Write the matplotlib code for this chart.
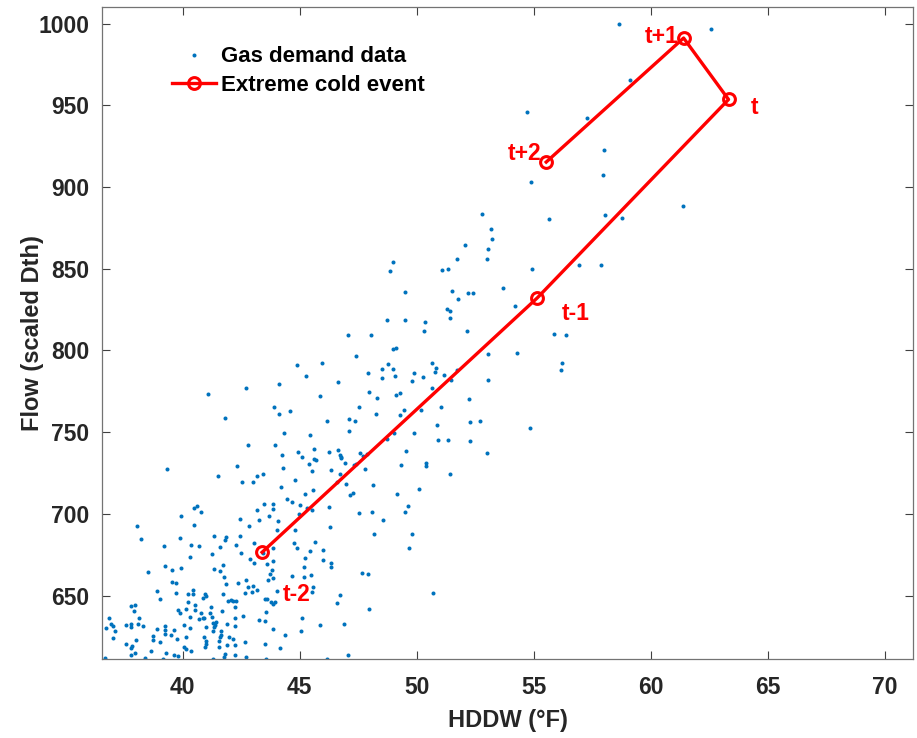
import matplotlib.pyplot as plt

plt.rcParams['font.family'] = ['Liberation Sans', 'DejaVu Sans']
plt.rcParams['font.weight'] = 'bold'

# Gas demand data: HDDW (deg F) vs flow (scaled Dth)
hddw = [
    41.07, 42.72, 44.11, 44.89, 45.26, 41.82, 43.88, 44.11, 44.58, 44.31,
    45.42, 42.81, 43.94, 44.26, 44.93, 45.10, 45.40, 39.33, 42.30, 44.29,
    41.52, 43.16, 43.45, 42.52, 43.00, 44.78, 44.20, 45.22, 44.45, 44.68,
    45.01, 45.33, 40.47, 40.63, 40.77, 43.16, 43.48, 43.86, 43.86, 39.94,
    43.68, 44.98, 42.46, 43.26, 44.09, 38.03, 40.47, 42.84, 44.04, 44.78,
    38.21, 39.87, 41.35, 41.86, 41.79, 42.46, 39.19, 40.36, 40.68, 41.58,
    42.29, 43.03, 44.76, 44.88, 43.84, 40.29, 41.24, 42.49, 42.89, 43.03,
    43.60, 43.86, 43.41, 45.22, 39.26, 39.56, 39.91, 38.51, 41.32, 41.72,
    41.61, 43.81, 43.74, 45.18, 41.75, 42.70, 43.64, 43.86, 44.69, 39.56,
    39.72, 41.86, 42.36, 43.01, 42.80, 42.64, 43.17, 42.96, 44.01, 45.18,
    38.92, 39.73, 40.24, 40.43, 40.43, 40.94, 41.01, 40.85, 41.74, 39.01,
    40.21, 40.53, 41.19, 41.95, 42.06, 42.16, 42.26, 42.23, 43.50, 43.60,
    43.77, 43.84, 43.94, 37.77, 37.97, 37.93, 39.79, 39.90, 40.12, 40.54,
    40.77, 41.15, 41.24, 41.69, 42.59, 43.56, 36.86, 38.15, 40.33, 40.90,
    42.23, 43.27, 43.53, 45.10, 36.92, 37.04, 37.59, 37.81, 38.11, 38.31,
    40.07, 40.70, 40.85, 41.30, 41.38, 41.41, 41.89, 42.22, 36.73, 37.81,
    37.12, 38.91, 39.23, 39.25, 39.62, 40.30, 40.98, 41.31, 41.34, 41.64,
    43.87, 45.07, 38.74, 39.23, 39.48, 40.14, 40.93, 41.59, 41.65, 41.98,
    42.15, 37.01, 38.01, 38.74, 39.05, 39.76, 41.01, 41.57, 42.64, 37.59,
    37.84, 37.81, 40.06, 41.01, 40.97, 41.91, 41.55, 42.25, 43.50, 44.39,
    44.17, 37.94, 37.80, 38.65, 40.13, 40.34, 39.29, 39.62, 39.79, 41.79,
    42.25, 41.78, 38.40, 39.15, 36.66, 42.70, 41.31, 43.57,
    52.79, 53.19, 53.22, 52.06, 53.04, 52.99, 51.73, 49.00, 48.84, 51.09,
    51.33, 49.50, 51.50, 52.18, 52.41, 53.69, 51.76, 51.28, 51.40, 51.43,
    48.72, 49.48, 50.36, 50.32, 52.15, 47.05, 48.06, 49.00, 49.13, 47.39,
    53.05, 45.97, 48.78, 48.52, 49.00, 50.64, 50.83, 50.78, 47.91, 48.53,
    49.08, 49.87, 50.26, 51.17, 51.71, 49.78, 51.47, 53.05, 46.65, 45.88,
    47.95, 48.29, 49.13, 49.27, 50.65, 52.23,
    47.55, 46.17, 47.12, 47.35, 48.26, 49.30, 49.44, 50.18, 51.04, 47.12,
    49.89, 50.87, 52.26, 52.70, 50.92, 51.34, 52.28, 52.99, 45.60, 45.63,
    45.70, 46.27, 46.63, 46.70, 46.78, 46.77, 47.56, 47.72, 47.89, 48.74,
    49.03, 46.95, 47.33, 47.42, 49.53, 49.31, 50.39, 50.39, 51.43, 45.53,
    46.34, 46.71, 47.78, 46.58, 46.99, 48.14, 45.57, 47.15, 47.27, 49.17,
    50.09, 45.54, 46.26, 49.64, 47.52, 48.10, 49.51, 48.57, 46.30,
    45.66, 45.43, 46.00, 46.01, 46.35, 46.35, 45.50, 47.68, 47.93, 48.19,
    49.78, 49.65, 45.57, 45.53, 46.74, 46.58, 47.95, 50.68, 45.86, 46.91,
    47.08, 46.17,
    54.19, 54.29, 55.86, 56.39, 56.20, 56.15, 54.84,
    58.65, 62.59, 59.12, 54.70, 57.27, 58.00, 57.95, 54.86, 61.39, 55.67,
    58.03, 58.76, 54.91, 56.93, 57.88,
]
flow = [
    773.2, 777.3, 779.3, 790.9, 784.2, 758.7, 765.2, 761.3, 762.8, 749.3,
    748.1, 742.4, 742.2, 736.2, 737.6, 735.0, 730.7, 727.2, 729.3, 728.1,
    723.2, 723.4, 724.6, 719.5, 719.5, 720.5, 716.5, 712.4, 709.3, 707.3,
    705.4, 703.8, 703.4, 705.0, 701.3, 702.4, 706.0, 706.0, 702.7, 698.5,
    698.7, 699.9, 697.0, 696.4, 695.4, 692.8, 693.0, 692.8, 690.3, 690.1,
    684.4, 685.4, 686.6, 685.6, 684.0, 686.6, 680.5, 681.1, 680.1, 679.7,
    681.1, 681.9, 682.2, 679.1, 679.1, 673.6, 675.4, 676.2, 672.4, 669.9,
    669.3, 671.3, 676.0, 673.0, 668.3, 665.8, 666.6, 664.2, 666.4, 668.9,
    664.8, 665.4, 663.5, 667.2, 661.1, 659.3, 659.5, 660.5, 662.1, 658.5,
    657.7, 657.4, 657.7, 655.6, 655.0, 651.7, 653.4, 652.5, 653.0, 661.1,
    652.8, 651.7, 650.9, 653.6, 650.7, 650.9, 649.5, 648.8, 650.9, 648.1,
    646.0, 644.4, 643.0, 646.6, 647.3, 646.8, 646.6, 643.0, 648.1, 648.2,
    645.8, 644.8, 646.2, 643.6, 644.0, 640.7, 641.1, 639.3, 641.9, 641.3,
    639.5, 639.5, 637.0, 640.3, 637.6, 639.7, 636.0, 636.4, 636.6, 636.2,
    636.0, 635.0, 634.2, 636.2, 632.7, 631.7, 632.1, 632.9, 632.9, 631.7,
    632.3, 635.6, 636.0, 633.4, 632.1, 633.8, 632.6, 631.5, 630.3, 630.7,
    628.5, 629.7, 631.1, 629.1, 628.9, 630.3, 630.5, 628.5, 630.5, 628.3,
    629.5, 628.5, 625.4, 626.4, 626.0, 624.8, 624.4, 624.8, 625.8, 624.4,
    623.4, 624.0, 622.8, 623.1, 621.7, 623.4, 622.3, 622.3, 621.5, 620.3,
    619.3, 617.9, 618.7, 620.3, 618.7, 619.9, 618.8, 619.9, 620.3, 626.0,
    617.9, 615.0, 613.9, 615.8, 617.2, 616.2, 614.6, 613.6, 613.1, 614.2,
    613.9, 612.5, 611.9, 611.5, 612.1, 612.5, 611.0, 611.0,
    883.6, 874.5, 868.1, 864.8, 862.4, 856.1, 855.8, 854.0, 848.5, 849.1,
    850.1, 835.9, 836.2, 835.0, 835.0, 838.3, 831.3, 825.2, 824.2, 820.0,
    818.5, 818.5, 817.7, 812.0, 811.7, 809.7, 809.3, 801.2, 801.8, 796.9,
    797.9, 792.6, 791.8, 788.5, 788.9, 792.1, 789.5, 787.1, 786.3, 783.4,
    784.2, 786.3, 783.6, 785.0, 788.1, 781.4, 782.2, 782.2, 780.8, 772.2,
    774.8, 771.0, 772.8, 774.0, 777.3, 770.3,
    765.2, 756.9, 758.3, 756.6, 761.2, 760.7, 763.4, 763.4, 765.5, 750.8,
    749.3, 754.4, 756.3, 756.6, 745.4, 745.4, 744.8, 737.3, 739.7, 733.8,
    733.0, 738.1, 738.9, 736.2, 735.0, 734.0, 737.3, 735.6, 736.7, 745.9,
    749.5, 731.2, 729.9, 730.5, 738.3, 729.9, 731.3, 729.1, 724.4, 726.0,
    727.1, 724.6, 727.5, 719.7, 718.0, 717.4, 714.8, 711.7, 712.5, 712.4,
    715.2, 702.6, 704.2, 704.8, 700.7, 700.9, 700.9, 696.4, 692.0,
    683.0, 677.4, 677.9, 671.9, 669.9, 667.8, 662.3, 664.0, 663.5, 687.7,
    687.7, 679.1, 655.4, 652.2, 650.3, 645.6, 641.7, 651.3, 632.1, 632.9,
    613.8, 611.0,
    827.3, 798.5, 810.3, 809.7, 792.1, 787.9, 752.6,
    999.6, 996.9, 965.7, 945.7, 942.4, 922.4, 907.5, 903.0, 888.7, 880.6,
    883.2, 881.2, 850.0, 852.4, 852.2,
]

# Extreme cold event, in time order t-2 .. t+2
event_labels = ['t-2', 't-1', 't', 't+1', 't+2']
event_hddw = [43.39, 55.15, 63.32, 61.40, 55.53]
event_flow = [676.5, 832.2, 953.6, 991.2, 915.3]
label_hddw = [44.29, 56.18, 64.28, 59.73, 53.90]
label_flow = [650.5, 822.4, 948.7, 992.3, 920.7]

fig = plt.figure(figsize=(9.17, 7.38), dpi=100)
ax = fig.add_axes([0.1112, 0.1066, 0.8844, 0.8835])

ax.plot(hddw, flow, linestyle='none', marker='o', ms=2.9, mew=0,
        color='#0072BD', label='Gas demand data')
ax.plot(event_hddw, event_flow, '-o', color='red', lw=2.4, ms=8.5,
        mfc='none', mew=2.2, label='Extreme cold event')

for lab, x, y in zip(event_labels, label_hddw, label_flow):
    ax.text(x, y, lab, color='red', fontsize=16.5, fontweight='bold',
            ha='left', va='center')

ax.set_xlim(36.55, 71.2)
ax.set_ylim(611, 1010)
ax.set_xticks(range(40, 71, 5))
ax.set_yticks(range(650, 1001, 50))
ax.tick_params(direction='in', length=5.5, width=0.8, color='0.25',
               labelsize=16.5, top=True, right=True)
ax.tick_params(axis='x', pad=12)
ax.tick_params(axis='y', pad=9)
for s in ax.spines.values():
    s.set_color('0.45')
    s.set_linewidth(0.9)

ax.set_xlabel('HDDW (°F)', fontsize=17, fontweight='bold', color='0.15',
              labelpad=7)
ax.set_ylabel('Flow (scaled Dth)', fontsize=17, fontweight='bold', color='0.15',
              labelpad=-4)
for t in ax.get_xticklabels() + ax.get_yticklabels():
    t.set_color('0.15')
    t.set_fontweight('bold')

ax.legend(loc='upper left', bbox_to_anchor=(0.086, 0.94), frameon=False,
          fontsize=16, borderpad=0, borderaxespad=0, handlelength=2.0,
          handletextpad=0.2, labelspacing=0.35, markerscale=1.0)

fig.savefig('out.png', dpi=100)
